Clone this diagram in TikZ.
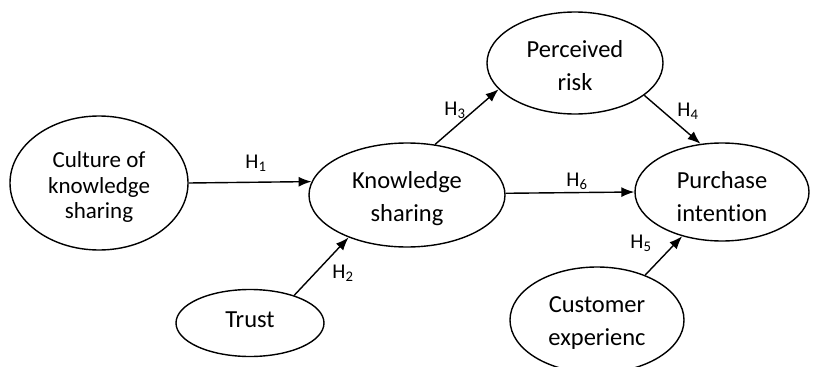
\documentclass[tikz,border=0pt]{standalone}
\usepackage{fontspec}
\setmainfont{Carlito}[Ligatures=NoCommon]
\usetikzlibrary{shapes.geometric,arrows.meta}
\tikzset{
  oval/.style={ellipse, draw, line width=1.4pt, inner sep=0pt},
  txt/.style={align=center, inner sep=0pt, font=\fontsize{24.5}{33}\selectfont},
  arr/.style={line width=1.4pt, -{Latex[length=13pt,width=10pt]}},
  hlab/.style={font=\fontsize{21}{22}\selectfont, inner sep=0pt}
}
\begin{document}
\begin{tikzpicture}[x=1pt,y=-1pt]
\useasboundingbox (0,0) rectangle (815,367);
\clip (0,0) rectangle (815,367);
\node[oval, minimum width=178pt, minimum height=134pt] (cult) at (99,183) {};
\node[oval, minimum width=196pt, minimum height=104pt] (know) at (407,195) {};
\node[oval, minimum width=176pt, minimum height=102pt] (perc) at (575,63) {};
\node[oval, minimum width=174pt, minimum height=98pt] (purch) at (722,192) {};
\node[oval, minimum width=174pt, minimum height=106pt] (cust) at (597,320) {};
\node[oval, minimum width=148pt, minimum height=67pt] (trust) at (250,323) {};

\node[txt, font=\fontsize{23}{25.5}\selectfont] (cultt) at (99,187) {Culture of\\knowledge\\sharing};
\node[txt] (knowt) at (407,199) {Knowledge\\sharing};
\node[txt] (perct) at (575,66) {Perceived\\risk};
\node[txt] (purcht) at (722,197) {Purchase\\intention};
\node[txt] (custt) at (597,323) {Customer\\experienc};
\node[txt] (trustt) at (250,320) {Trust};

\draw[arr] (cult.east) -- (know.172.8);
\draw[arr] (trust.32) -- (know.216);
\draw[arr] (know.61) -- (perc.199);
\draw[arr] (perc.335) -- (purch.114);
\draw[arr] (know.1.5) -- (purch.west);
\draw[arr] (cust.43) -- (purch.228);

\node[hlab] (h1) at (256,163) {H\textsubscript{1}};
\node[hlab] (h2) at (343,273) {H\textsubscript{2}};
\node[hlab] (h3) at (455,110) {H\textsubscript{3}};
\node[hlab] (h4) at (688,111) {H\textsubscript{4}};
\node[hlab] (h6) at (577,181) {H\textsubscript{6}};
\node[hlab] (h5) at (641,243) {H\textsubscript{5}};
\end{tikzpicture}
\end{document}
